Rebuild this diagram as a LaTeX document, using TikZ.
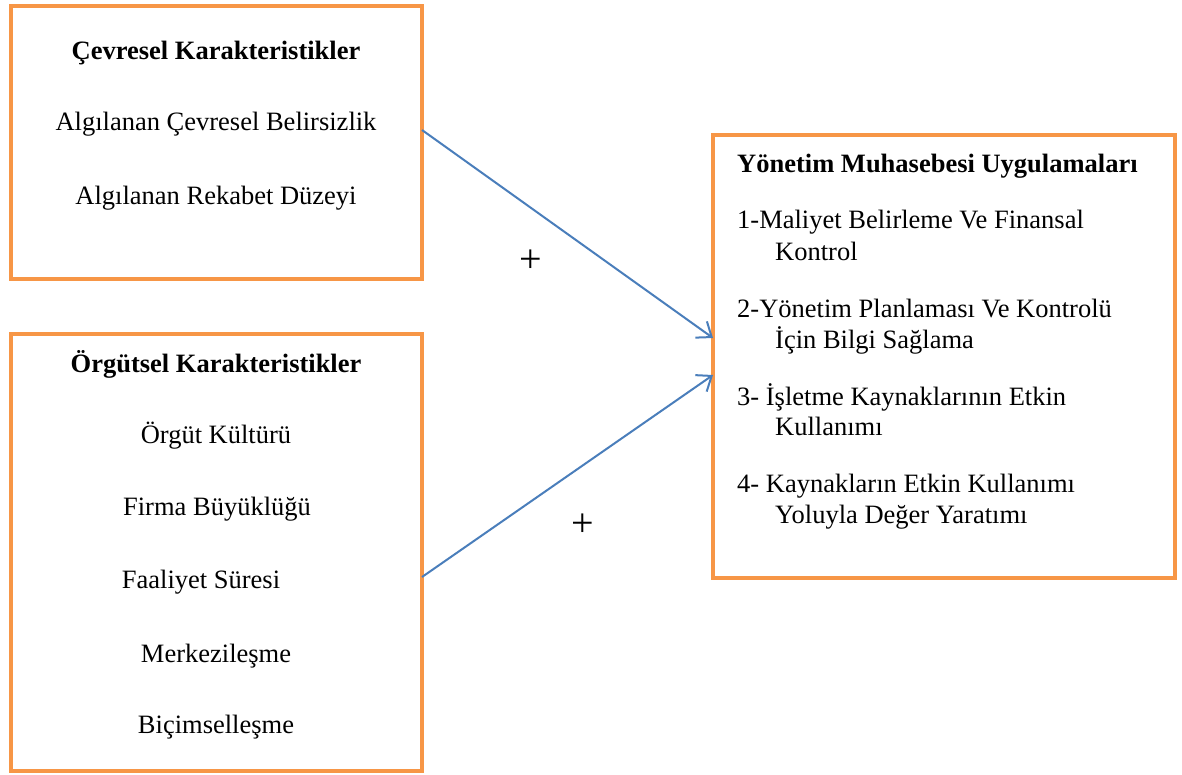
\documentclass[tikz,border=0pt]{standalone}
\usepackage{fontspec}
\setmainfont{Liberation Serif}
\usetikzlibrary{arrows.meta,calc}
\definecolor{boxorange}{HTML}{F79646}
\definecolor{arrowblue}{HTML}{4A7EBB}
\tikzset{
  box/.style={draw=boxorange, line width=4.5pt, inner sep=0pt, outer sep=0pt, anchor=north west},
  txt/.style={font=\fontsize{26.5}{31}\selectfont, inner sep=0pt},
  plus/.style={font=\fontsize{40}{44}\selectfont, inner sep=0pt},
  link/.style={draw=arrowblue, line width=2pt, -{Straight Barb[length=13pt,width=20pt,line width=2pt]}}
}
\begin{document}
\begin{tikzpicture}[x=1pt,y=-1pt]
\useasboundingbox (0,0) rectangle (1182,774);
% boxes
\node[box, minimum width=411pt, minimum height=273pt] (b1) at (11,6) {};
\node[box, minimum width=411pt, minimum height=437pt] (b2) at (11,334) {};
\node[box, minimum width=462pt, minimum height=443pt] (b3) at (713,135) {};
% box 1 texts
\node[txt, anchor=base] (t11) at (216,59) {\bfseries Çevresel Karakteristikler};
\node[txt, anchor=base] (t12) at (216,130) {Algılanan Çevresel Belirsizlik};
\node[txt, anchor=base] (t13) at (216,204) {Algılanan Rekabet Düzeyi};
% box 2 texts
\node[txt, anchor=base] (t21) at (216,372) {\bfseries Örgütsel Karakteristikler};
\node[txt, anchor=base] (t22) at (216,443) {Örgüt Kültürü};
\node[txt, anchor=base] (t23) at (217,515) {Firma Büyüklüğü};
\node[txt, anchor=base] (t24) at (201,588) {Faaliyet Süresi};
\node[txt, anchor=base] (t25) at (216,662) {Merkezileşme};
\node[txt, anchor=base] (t26) at (216,733) {Biçimselleşme};
% box 3 texts
\node[txt, anchor=base west] (t31) at (737,172) {\bfseries Yönetim Muhasebesi Uygulamaları};
\node[txt, anchor=base west] (t32) at (737,228) {1-Maliyet Belirleme Ve Finansal};
\node[txt, anchor=base west] (t33) at (775,260) {Kontrol};
\node[txt, anchor=base west] (t34) at (737,317) {2-Yönetim Planlaması Ve Kontrolü};
\node[txt, anchor=base west] (t35) at (775,348) {İçin Bilgi Sağlama};
\node[txt, anchor=base west] (t36) at (737,405) {3- İşletme Kaynaklarının Etkin};
\node[txt, anchor=base west] (t37) at (775,435) {Kullanımı};
\node[txt, anchor=base west] (t38) at (737,492) {4- Kaynakların Etkin Kullanımı};
\node[txt, anchor=base west] (t39) at (775,523) {Yoluyla Değer Yaratımı};
% plus signs
\node[plus] (p1) at (531,261) {+};
\node[plus] (p2) at (583,525) {+};
% connectors
\draw[link] ([yshift=-124pt]b1.north east) -- ([yshift=-203pt]b3.north west);
\draw[link] ([yshift=-243pt]b2.north east) -- ([yshift=-240pt]b3.north west);
\end{tikzpicture}
\end{document}
